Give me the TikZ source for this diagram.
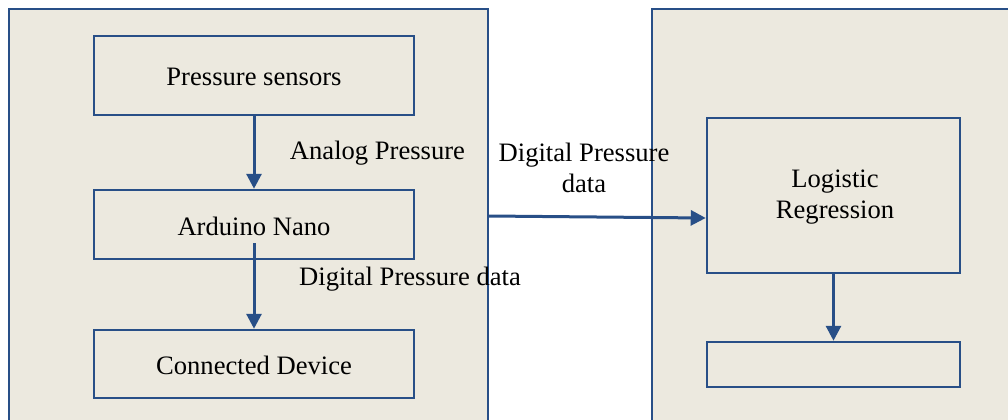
\documentclass[tikz,border=0pt]{standalone}
\usepackage{fontspec}
\setmainfont{Liberation Serif}
\usetikzlibrary{arrows.meta}
\definecolor{bfill}{RGB}{236,233,223}
\definecolor{bline}{RGB}{40,79,135}
\tikzset{
  outerbox/.style={draw=bline, fill=bfill, line width=1pt, rectangle, inner sep=0pt},
  innerbox/.style={draw=bline, fill=bfill, line width=1.25pt, rectangle, inner sep=0pt,
    minimum width=160pt, align=center, font=\fontsize{13.3pt}{15.5pt}\selectfont},
  lbl/.style={inner sep=0pt, align=center, font=\fontsize{13.3pt}{15.5pt}\selectfont},
  arr/.style={draw=bline, line width=1.5pt, -{Triangle[length=7.5pt,width=7.5pt]}}
}
\begin{document}
\begin{tikzpicture}[x=0.5pt,y=-0.5pt]
\useasboundingbox (0,0) rectangle (1008,419);
\clip (0,0) rectangle (1008,419);
% outer boxes
\node[outerbox, minimum width=239.5pt, minimum height=210.5pt] (L) at (248.5,219.5) {};
\node[outerbox, minimum width=181.5pt, minimum height=210.5pt] (R) at (833.5,219.5) {};
% inner boxes
\node[innerbox, minimum height=39.5pt] (ps) at (254,75.5) {};
\node[innerbox, minimum height=34.5pt] (ard) at (254,224.5) {};
\node[innerbox, minimum height=34pt] (dev) at (254,364) {};
\node[innerbox, minimum width=126.5pt, minimum height=77.5pt] (lr) at (833.5,195.5) {};
\node[innerbox, minimum width=126.5pt, minimum height=22.5pt] (out) at (833.5,364.5) {};
% box texts
\node[lbl] (pst) at (254,77) {Pressure sensors};
\node[lbl] (ardt) at (254,226) {Arduino Nano};
\node[lbl] (devt) at (254,365) {Connected Device};
\node[lbl] (lrt) at (835,197) {Logistic\\Regression};
% arrows
\draw[arr] (ps.south) -- (ard.north);
\draw[arr] ([yshift=8.5pt]ard.south) -- (dev.north);
\draw[arr] (lr.south) -- (out.north);
\draw[arr] ([yshift=1.75pt]L.east) -- ([yshift=-11.25pt]lr.west);
% labels
\node[lbl] (l1) at (377.5,153) {Analog Pressure};
\node[lbl] (l2) at (410,279) {Digital Pressure data};
\node[lbl] (l3) at (584,168) {Digital Pressure\\data};
\end{tikzpicture}
\end{document}
